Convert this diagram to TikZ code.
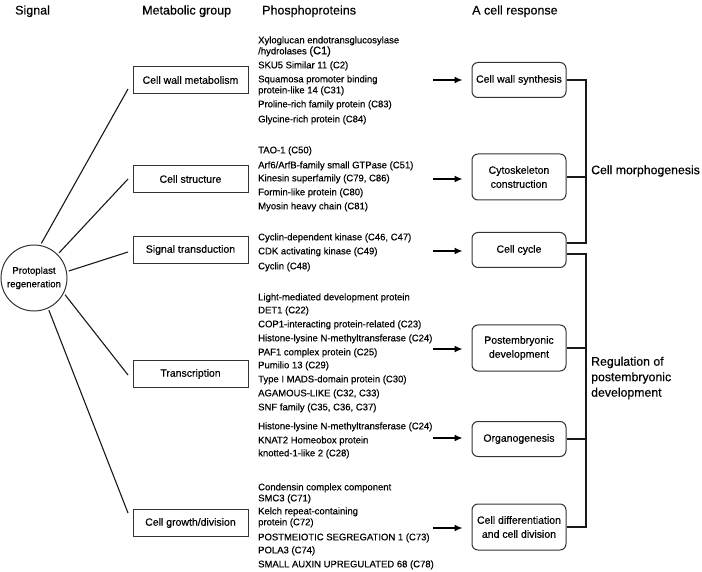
\documentclass[tikz,border=0pt]{standalone}
\usepackage{fontspec}
\setmainfont{Liberation Sans}[FakeBold=0.4]
\usetikzlibrary{arrows.meta}
\begin{document}
\begin{tikzpicture}[x=1pt,y=-1pt,
  hdr/.style={anchor=base west, inner sep=0pt, font=\fontsize{12.5}{15}\selectfont},
  ptxt/.style={anchor=base west, inner sep=0pt, font=\fontsize{9.5}{11}\selectfont},
  mbox/.style={draw=black!80, line width=1pt, minimum width=115pt, minimum height=27pt, inner sep=1pt, font=\fontsize{10.5}{12}\selectfont},
  rbox/.style={draw=black!80, line width=1pt, rounded corners=6pt, minimum width=94pt, inner sep=1pt, align=center, font=\fontsize{10.5}{14}\selectfont},
  conn/.style={line width=1.1pt, black!90},
  arr/.style={line width=1.2pt, -{Latex[length=8pt,width=7pt]}, shorten >=9pt},
  lbl/.style={anchor=west, inner sep=0pt, align=left, font=\fontsize{12.3}{15.5}\selectfont}
]
\useasboundingbox (0,0) rectangle (702,572);
% headers
\node[hdr] (h1) at (15,14.5) {Signal};
\node[hdr] (h2) at (142,14.5) {Metabolic group};
\node[hdr] (h3) at (262,14.5) {Phosphoproteins};
\node[hdr] (h4) at (472,14.5) {A cell response};
% signal
\node[draw=black!80, line width=1pt, circle, minimum size=66pt, inner sep=0pt, align=center,
      font=\fontsize{9.6}{13.5}\selectfont] (circ) at (34,278) {Protoplast\\regeneration};
% metabolic groups
\node[mbox] (m1) at (190.5,80) {Cell wall metabolism};
\node[mbox] (m2) at (190.5,179) {Cell structure};
\node[mbox] (m3) at (190.5,250) {Signal transduction};
\node[mbox] (m4) at (190.5,374) {Transcription};
\node[mbox] (m5) at (190.5,523) {Cell growth/division};
\coordinate (e1) at (128,89);
\coordinate (e2) at (128,179);
\coordinate (e3) at (128,252);
\coordinate (e4) at (128,375);
\coordinate (e5) at (128,513);
\draw[conn, shorten <=2pt] (circ.79) -- (e1);
\draw[conn, shorten <=2pt] (circ.45) -- (e2);
\draw[conn, shorten <=2pt] (circ.11) -- (e3);
\draw[conn, shorten <=2pt] (circ.-27) -- (e4);
\draw[conn, shorten <=2pt] (circ.-65) -- (e5);
% phosphoproteins
\foreach \yy/\ptext [count=\i] in {
  40/{Xyloglucan endotransglucosylase},
  51/{/hydrolases {\fontsize{11}{11}\selectfont(C1)}},
  65/{SKU5 Similar 11 (C2)},
  79/{Squamosa promoter binding},
  90/{protein-like 14 (C31)},
  104/{Proline-rich family protein (C83)},
  119/{Glycine-rich protein (C84)},
  150/{TAO-1 (C50)},
  165/{Arf6/ArfB-family small GTPase (C51)},
  178/{Kinesin superfamily (C79, C86)},
  192/{Formin-like protein (C80)},
  206/{Myosin heavy chain (C81)},
  237/{Cyclin-dependent kinase (C46, C47)},
  251/{CDK activating kinase (C49)},
  266/{Cyclin (C48)},
  297/{Light-mediated development protein},
  310/{DET1 (C22)},
  324/{COP1-interacting protein-related (C23)},
  338/{Histone-lysine N-methyltransferase (C24)},
  352/{PAF1 complex protein (C25)},
  365/{Pumilio 13 (C29)},
  379/{Type I MADS-domain protein (C30)},
  393/{AGAMOUS-LIKE (C32, C33)},
  407/{SNF family (C35, C36, C37)},
  426/{Histone-lysine N-methyltransferase (C24)},
  440/{KNAT2 Homeobox protein},
  453/{knotted-1-like 2 (C28)},
  487/{Condensin complex component},
  498/{SMC3 (C71)},
  511/{Kelch repeat-containing},
  522/{protein (C72)},
  537/{POSTMEIOTIC SEGREGATION 1 (C73)},
  550/{POLA3 (C74)},
  564/{SMALL AUXIN UPREGULATED 68 (C78)}}
  \node[ptxt] (p\i) at (258,\yy+3.3) {\ptext};
% responses
\node[rbox, minimum height=35pt] (r1) at (519,80) {Cell wall synthesis};
\node[rbox, minimum height=46pt] (r2) at (519,177) {Cytoskeleton\\construction};
\node[rbox, minimum height=35pt] (r3) at (519,250) {Cell cycle};
\node[rbox, minimum height=46pt] (r4) at (519,348) {Postembryonic\\development};
\node[rbox, minimum height=35pt] (r5) at (519,439) {Organogenesis};
\node[rbox, minimum height=46pt] (r6) at (519,527) {Cell differentiation\\and cell division};
% arrows
\coordinate (a1) at (433,80);
\coordinate (a2) at (433,179);
\coordinate (a3) at (433,251);
\coordinate (a4) at (433,349);
\coordinate (a5) at (433,438);
\coordinate (a6) at (433,528);
\draw[arr] (a1) -- (a1 -| r1.west);
\draw[arr] (a2) -- (a2 -| r2.west);
\draw[arr] (a3) -- (a3 -| r3.west);
\draw[arr] (a4) -- (a4 -| r4.west);
\draw[arr] (a5) -- (a5 -| r5.west);
\draw[arr] (a6) -- (a6 -| r6.west);
% brackets
\coordinate (k1) at (586,80);
\coordinate (k2) at (586,243);
\coordinate (k3) at (586,254);
\coordinate (k4) at (586,527);
\draw[conn] (r1.east) -- (k1) -- (k2) -- (k2 -| r3.east);
\draw[conn] (r2.east) -- (r2.east -| k1);
\draw[conn] (k3 -| r3.east) -- (k3) -- (k4) -- (r6.east);
\draw[conn] (r4.east) -- (r4.east -| k1);
\draw[conn] (r5.east) -- (r5.east -| k1);
\node[lbl] (l1) at (591,171) {Cell morphogenesis};
\node[lbl] (l2) at (591,378) {Regulation of\\postembryonic\\development};
\end{tikzpicture}
\end{document}
